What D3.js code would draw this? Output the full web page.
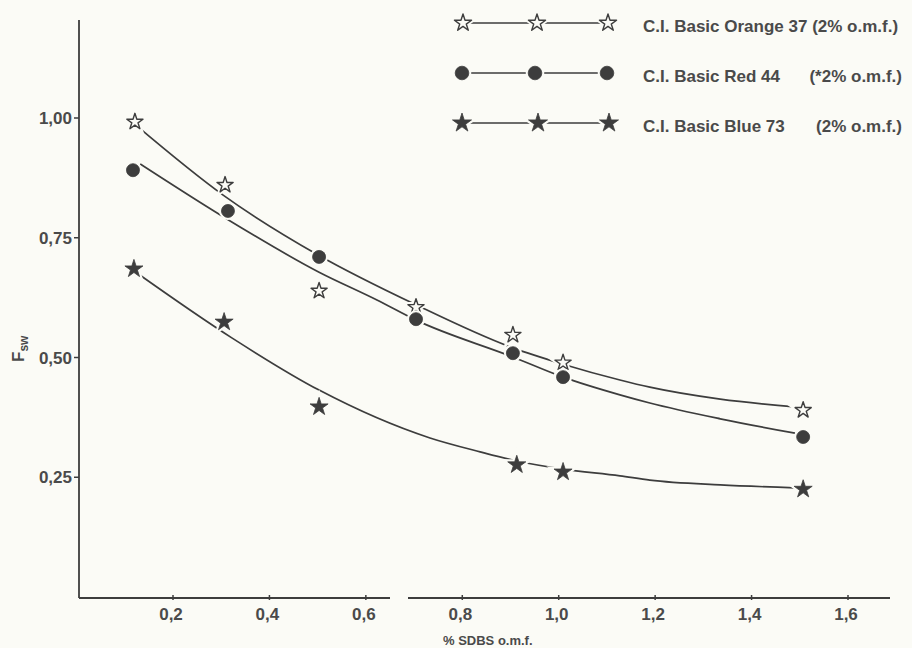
<!DOCTYPE html>
<html>
<head>
<meta charset="utf-8">
<script src="https://cdn.jsdelivr.net/npm/d3@7"></script>
<style>
  body { margin: 0; background: #fbfbf6; }
  svg { display: block; }
  text { font-family: "Liberation Sans", Arial, sans-serif; font-weight: bold; fill: #4a4a4a; }
</style>
</head>
<body>
<script>
// tick labels
var xTicks = [0.2, 0.4, 0.6, 0.8, 1.0, 1.2, 1.4, 1.6];
var yTicks = [0.25, 0.50, 0.75, 1.00];

// measured points, C.I. Basic Orange 37
var orangeX = [0.121, 0.308, 0.503, 0.704, 0.905, 1.009, 1.507];
var orangeY = [0.992, 0.860, 0.639, 0.605, 0.547, 0.489, 0.390];
// measured points, C.I. Basic Red 44
var redX = [0.117, 0.314, 0.503, 0.704, 0.905, 1.009, 1.507];
var redY = [0.891, 0.806, 0.710, 0.580, 0.509, 0.459, 0.334];
// measured points, C.I. Basic Blue 73
var blueX = [0.119, 0.306, 0.503, 0.913, 1.009, 1.507];
var blueY = [0.685, 0.574, 0.397, 0.276, 0.261, 0.225];

// hand drawn fitted curves
var orangeFitX = [0.123, 0.304, 0.501, 0.704, 0.905, 1.009, 1.127, 1.189, 1.335, 1.490];
var orangeFitY = [0.985, 0.839, 0.714, 0.610, 0.520, 0.486, 0.453, 0.438, 0.413, 0.397];
var redFitX = [0.132, 0.312, 0.503, 0.623, 0.704, 0.905, 1.009, 1.127, 1.189, 1.335, 1.490];
var redFitY = [0.904, 0.789, 0.678, 0.620, 0.578, 0.501, 0.459, 0.422, 0.405, 0.372, 0.342];
var blueFitX = [0.123, 0.322, 0.503, 0.733, 0.837, 0.913, 1.009, 1.127, 1.189, 1.335, 1.490];
var blueFitY = [0.678, 0.541, 0.432, 0.332, 0.303, 0.284, 0.267, 0.253, 0.244, 0.234, 0.228];

var legendNames = ["C.I. Basic Orange 37 (2% o.m.f.)", "C.I. Basic Red 44", "C.I. Basic Blue 73"];
var legendNotes = ["", "(*2% o.m.f.)", "(2% o.m.f.)"];

var width = 912, height = 648;
var ink = "#3d3d3d", bg = "#fbfbf6";

var svg = d3.select("body").append("svg")
    .attr("width", width)
    .attr("height", height);

var x = d3.scaleLinear().domain([0.2, 1.6]).range([173, 848]);
var y = d3.scaleLinear().domain([0, 1]).range([597, 118]);

// axes (x axis is broken between 0,6 and 0,8)
svg.append("line").attr("x1", 79).attr("x2", 79).attr("y1", 20).attr("y2", 598)
    .attr("stroke", ink).attr("stroke-width", 1.8);
svg.append("line").attr("x1", 79).attr("x2", 390).attr("y1", 598).attr("y2", 598)
    .attr("stroke", ink).attr("stroke-width", 1.8);
svg.append("line").attr("x1", 408).attr("x2", 890).attr("y1", 598).attr("y2", 598)
    .attr("stroke", ink).attr("stroke-width", 1.8);

svg.selectAll(".ytick").data(yTicks).enter().append("line")
    .attr("x1", 74).attr("x2", 79)
    .attr("y1", function(d){ return y(d); }).attr("y2", function(d){ return y(d); })
    .attr("stroke", ink).attr("stroke-width", 1.5);
svg.selectAll(".ylab").data(yTicks).enter().append("text")
    .attr("x", 72).attr("y", function(d){ return y(d) + 6; })
    .attr("text-anchor", "end").style("font-size", "17px")
    .text(function(d){ return d3.format(".2f")(d).replace(".", ","); });

svg.selectAll(".xtick").data(xTicks).enter().append("line")
    .attr("x1", function(d){ return x(d); }).attr("x2", function(d){ return x(d); })
    .attr("y1", 595).attr("y2", 600)
    .attr("stroke", ink).attr("stroke-width", 1.5);
svg.selectAll(".xlab").data(xTicks).enter().append("text")
    .attr("x", function(d){ return x(d) - 2; }).attr("y", 620)
    .attr("text-anchor", "middle").style("font-size", "17px")
    .text(function(d){ return d3.format(".1f")(d).replace(".", ","); });

// axis titles
svg.append("text").attr("x", 443).attr("y", 645)
    .style("font-size", "13px").text("% SDBS o.m.f.");
var ft = svg.append("text").attr("transform", "translate(24,362) rotate(-90)")
    .style("font-size", "17px");
ft.append("tspan").text("F");
ft.append("tspan").attr("dy", 4).style("font-size", "12px").text("sw");

// curves
var line = d3.line()
    .x(function(d){ return x(d[0]); })
    .y(function(d){ return y(d[1]); })
    .curve(d3.curveMonotoneX);
[[orangeFitX, orangeFitY], [redFitX, redFitY], [blueFitX, blueFitY]].forEach(function(c){
    svg.append("path")
        .datum(c[0].map(function(v, i){ return [v, c[1][i]]; }))
        .attr("d", line)
        .attr("fill", "none").attr("stroke", ink).attr("stroke-width", 1.7);
});

// marker drawing
function marker(g, type, cx, cy, r){
    var path;
    if (type == "circle") {
        path = d3.symbol().type(d3.symbolCircle).size(Math.PI * r * r)();
    } else {
        path = d3.symbol().type(d3.symbolStar).size(r * r / 0.8908)();
    }
    // background halo, makes the gap in the curve
    g.append("path").attr("d", path).attr("transform", "translate(" + cx + "," + cy + ")")
        .attr("fill", bg).attr("stroke", bg).attr("stroke-width", 5);
    g.append("path").attr("d", path).attr("transform", "translate(" + cx + "," + cy + ")")
        .attr("fill", type == "open" ? bg : ink)
        .attr("stroke", ink).attr("stroke-width", type == "open" ? 1.4 : 0.8)
        .attr("stroke-linejoin", "round");
}

var marks = svg.append("g");
orangeX.forEach(function(v, i){ marker(marks, "open", x(v), y(orangeY[i]), 8.5); });
redX.forEach(function(v, i){ marker(marks, "circle", x(v), y(redY[i]), 6.5); });
blueX.forEach(function(v, i){ marker(marks, "star", x(v), y(blueY[i]), 9.5); });

// legend
var legTypes = ["open", "circle", "star"];
var legSize = [9, 6.8, 10];
var legY = [23, 73, 123];
var legMarkX = [[463, 537, 608], [462, 535, 607], [462, 538, 609]];
var leg = svg.append("g");
legTypes.forEach(function(t, i){
    leg.append("line").attr("x1", 458).attr("x2", 608)
        .attr("y1", legY[i]).attr("y2", legY[i])
        .attr("stroke", ink).attr("stroke-width", 1.7);
    legMarkX[i].forEach(function(mx){ marker(leg, t, mx, legY[i], legSize[i]); });
    leg.append("text").attr("x", 643).attr("y", legY[i] + 9)
        .style("font-size", "17px").text(legendNames[i]);
    leg.append("text").attr("x", 902).attr("y", legY[i] + 9)
        .attr("text-anchor", "end").style("font-size", "17px").text(legendNotes[i]);
});
</script>
</body>
</html>
